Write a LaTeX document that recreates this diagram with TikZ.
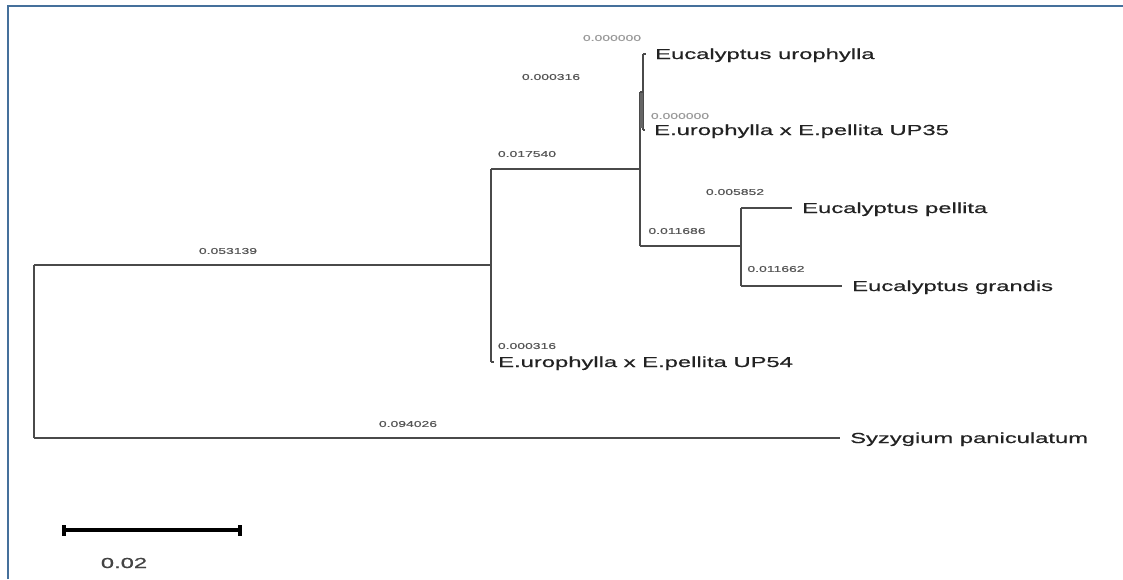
\documentclass[tikz,border=0pt]{standalone}
\usepackage{fontspec}
\setmainfont{Liberation Sans}
\newfontfamily\heavyfont{Liberation Sans}[FakeBold=0.4]
\newcommand{\sxw}[1]{\scalebox{1.64}[1]{#1}}
\definecolor{brcol}{HTML}{4A4A4A}
\definecolor{taxcol}{HTML}{222222}
\definecolor{numcol}{HTML}{555555}
\definecolor{zerocol}{HTML}{999999}
\definecolor{bordercol}{HTML}{45709B}
\tikzset{
  br/.style={draw=brcol, line width=1.3pt},
  taxon/.style={anchor=base west, inner sep=0pt, text=taxcol, font=\heavyfont\fontsize{14.5}{17}\selectfont},
  blen/.style={anchor=center, inner sep=0pt, text=numcol, font=\heavyfont\fontsize{8.5}{10}\selectfont},
  zlen/.style={blen, text=zerocol},
  frame/.style={draw=bordercol, line width=2.5pt},
  scalebar/.style={draw=black, line width=4pt},
}
\begin{document}
\begin{tikzpicture}[x=1pt, y=-1pt]
\useasboundingbox (0,0) rectangle (1123,579);
\fill[white] (0,0) rectangle (1123,579);
% frame
\coordinate (f1) at (8,579);
\coordinate (f2) at (8,6);
\coordinate (f3) at (1123,6);
\draw[frame] (f1) -- (f2) -- (f3);

% internal nodes
\coordinate (Rt) at (34,265);
\coordinate (Rb) at (34,438);
\coordinate (A) at (491,265);
\coordinate (At) at (491,169);
\coordinate (Ab) at (491,362);
\coordinate (B) at (640,169);
\coordinate (Bt) at (640,92);
\coordinate (Bb) at (640,246);
\coordinate (C) at (643,92);
\coordinate (Ct) at (643,54);
\coordinate (Cb) at (643,130);
\coordinate (D) at (741,246);
\coordinate (Dt) at (741,208);
\coordinate (Db) at (741,286);

% taxa
\node[taxon] (uro) at (655,59) {\sxw{Eucalyptus urophylla}};
\node[taxon] (up35) at (654,135) {\sxw{E.urophylla x E.pellita UP35}};
\node[taxon] (pel) at (802,213) {\sxw{Eucalyptus pellita}};
\node[taxon] (gra) at (852,291) {\sxw{Eucalyptus grandis}};
\node[taxon] (up54) at (498,367) {\sxw{E.urophylla x E.pellita UP54}};
\node[taxon] (syz) at (850,443) {\sxw{Syzygium paniculatum}};

% branches
\draw[br] (Rt) -- (Rb);
\draw[br] (Rt) -- (A);
\draw[br, shorten >=10pt] (Rb) -- (Rb -| syz.west);
\draw[br] (At) -- (Ab);
\draw[br] (At) -- (B);
\draw[br, shorten >=4pt] (Ab) -- (Ab -| up54.west);
\draw[br] (Bt) -- (Bb);
\draw[br] (Bt) -- (C);
\draw[br] (Ct) -- (Cb);
\coordinate (Ck1) at (641.5,93);
\coordinate (Ck2) at (641.5,128);
\draw[br, line width=3.5pt, draw=brcol!85] (Ck1) -- (Ck2);
\draw[br, shorten >=9pt] (Ct) -- (Ct -| uro.west);
\draw[br, shorten >=9pt] (Cb) -- (Cb -| up35.west);
\draw[br] (Bb) -- (D);
\draw[br] (Dt) -- (Db);
\draw[br, shorten >=10pt] (Dt) -- (Dt -| pel.west);
\draw[br, shorten >=10pt] (Db) -- (Db -| gra.west);

% branch lengths
\node[zlen] (l1) at (612,38) {\sxw{0.000000}};
\node[blen] (l2) at (551,77) {\sxw{0.000316}};
\node[zlen] (l3) at (680,116) {\sxw{0.000000}};
\node[blen] (l4) at (527,154) {\sxw{0.017540}};
\node[blen] (l5) at (735,192) {\sxw{0.005852}};
\node[blen] (l6) at (677,231) {\sxw{0.011686}};
\node[blen] (l7) at (776,269) {\sxw{0.011662}};
\node[blen] (l8) at (228,251) {\sxw{0.053139}};
\node[blen] (l9) at (527,346) {\sxw{0.000316}};
\node[blen] (l10) at (408,424) {\sxw{0.094026}};

% scale bar
\coordinate (sbL) at (64,530);
\coordinate (sbR) at (240,530);
\draw[scalebar] (sbL) -- (sbR);
\fill[black] (sbL) ++(-2,-5.5) rectangle ++(4,11);
\fill[black] (sbR) ++(-2,-5.5) rectangle ++(4,11);
\node[anchor=center, inner sep=0pt, text=numcol!80!black, font=\heavyfont\fontsize{14.5}{17}\selectfont] (sblab) at (124,563) {\sxw{0.02}};
\end{tikzpicture}
\end{document}
